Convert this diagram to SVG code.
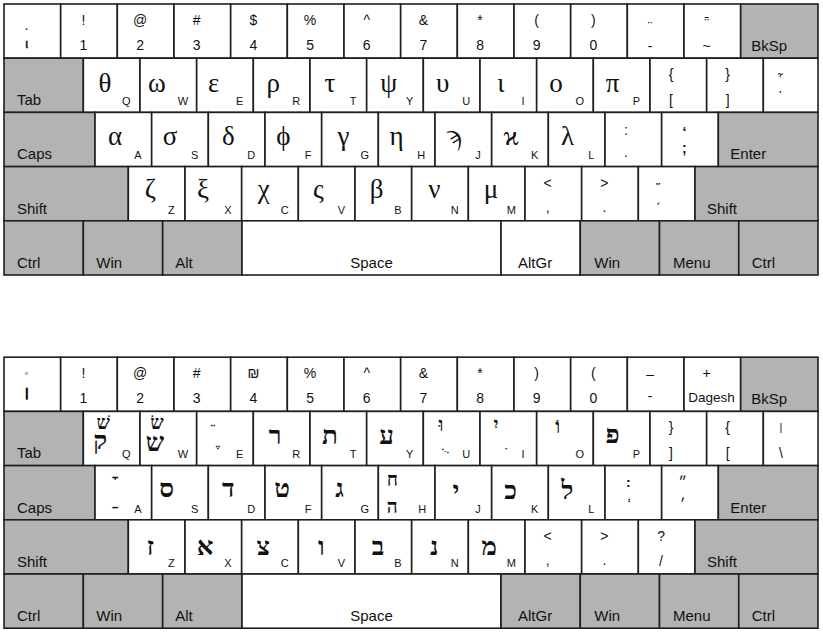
<svg xmlns="http://www.w3.org/2000/svg" width="823" height="632" viewBox="0 0 823 632">
<style>
.w{fill:#fff;stroke:#1e1e1e;stroke-width:1.6}
.d{fill:#b3b3b3;stroke:#1e1e1e;stroke-width:1.6}
text{fill:#111}
.s{font-family:"Liberation Sans",Arial,sans-serif;font-size:14px;text-anchor:middle}
.l{font-family:"Liberation Sans",Arial,sans-serif;font-size:11px;text-anchor:middle}
.m{font-family:"Liberation Sans",Arial,sans-serif;font-size:15px}
.g{font-family:"Liberation Serif","DejaVu Serif",serif;font-size:27px;text-anchor:middle}
.h{font-family:"Liberation Serif","DejaVu Serif",serif;font-size:26px;font-weight:bold;text-anchor:middle}
.hs{font-family:"Liberation Serif","DejaVu Serif",serif;font-size:19px;font-weight:bold;text-anchor:middle}
.pt{font-family:"DejaVu Sans",sans-serif;font-size:20px;text-anchor:middle}
.th{stroke:#111;stroke-width:0.5}
</style>
<rect width="823" height="632" fill="#fff"/>
<g id="greek">
<!-- row 1 -->
<g id="gk-grave" transform="translate(4 4)"><rect class="w" width="56.67" height="54.2"/><text class="s" x="22.7" y="29">·</text><text class="s th" x="22.7" y="44" style="font-size:13px">ι</text></g>
<g id="gk-1" transform="translate(60.67 4)"><rect class="w" width="56.67" height="54.2"/><text class="s" x="22.7" y="21">!</text><text class="s" x="22.7" y="46">1</text></g>
<g id="gk-2" transform="translate(117.33 4)"><rect class="w" width="56.67" height="54.2"/><text class="s" x="22.7" y="21">@</text><text class="s" x="22.7" y="46">2</text></g>
<g id="gk-3" transform="translate(174 4)"><rect class="w" width="56.67" height="54.2"/><text class="s" x="22.7" y="21">#</text><text class="s" x="22.7" y="46">3</text></g>
<g id="gk-4" transform="translate(230.67 4)"><rect class="w" width="56.67" height="54.2"/><text class="s" x="22.7" y="21">$</text><text class="s" x="22.7" y="46">4</text></g>
<g id="gk-5" transform="translate(287.33 4)"><rect class="w" width="56.67" height="54.2"/><text class="s" x="22.7" y="21">%</text><text class="s" x="22.7" y="46">5</text></g>
<g id="gk-6" transform="translate(344 4)"><rect class="w" width="56.67" height="54.2"/><text class="s" x="22.7" y="21">^</text><text class="s" x="22.7" y="46">6</text></g>
<g id="gk-7" transform="translate(400.67 4)"><rect class="w" width="56.67" height="54.2"/><text class="s" x="22.7" y="21">&amp;</text><text class="s" x="22.7" y="46">7</text></g>
<g id="gk-8" transform="translate(457.33 4)"><rect class="w" width="56.67" height="54.2"/><text class="s" x="22.7" y="21">*</text><text class="s" x="22.7" y="46">8</text></g>
<g id="gk-9" transform="translate(514 4)"><rect class="w" width="56.67" height="54.2"/><text class="s" x="22.7" y="21">(</text><text class="s" x="22.7" y="46">9</text></g>
<g id="gk-0" transform="translate(570.67 4)"><rect class="w" width="56.67" height="54.2"/><text class="s" x="22.7" y="21">)</text><text class="s" x="22.7" y="46">0</text></g>
<g id="gk-minus" transform="translate(627.33 4)"><rect class="w" width="56.67" height="54.2"/><text class="s" x="22.7" y="28">¨</text><text class="s" x="22.7" y="47">-</text></g>
<g id="gk-equal" transform="translate(684 4)"><rect class="w" width="56.67" height="54.2"/><text class="s" x="22.7" y="25">῁</text><text class="s" x="22.7" y="47">~</text></g>
<g id="gk-bksp" transform="translate(740.67 4)"><rect class="d" width="77.33" height="54.2"/><text class="m" x="10.5" y="47">BkSp</text></g>
<!-- row 2 -->
<g id="gk-tab" transform="translate(4 58.2)"><rect class="d" width="79.33" height="54.2"/><text class="m" x="13" y="47">Tab</text></g>
<g id="gk-q" transform="translate(83.33 58.2)"><rect class="w" width="56.67" height="54.2"/><text class="g" x="21.7" y="34">θ</text><text class="l" x="43" y="47">Q</text></g>
<g id="gk-w" transform="translate(140 58.2)"><rect class="w" width="56.67" height="54.2"/><text class="g" x="17" y="34">ω</text><text class="l" x="43" y="47">W</text></g>
<g id="gk-e" transform="translate(196.67 58.2)"><rect class="w" width="56.67" height="54.2"/><text class="g" x="17" y="34">ε</text><text class="l" x="43" y="47">E</text></g>
<g id="gk-r" transform="translate(253.33 58.2)"><rect class="w" width="56.67" height="54.2"/><text class="g" x="20" y="34">ρ</text><text class="l" x="43" y="47">R</text></g>
<g id="gk-t" transform="translate(310 58.2)"><rect class="w" width="56.67" height="54.2"/><text class="g" x="20" y="34">τ</text><text class="l" x="43" y="47">T</text></g>
<g id="gk-y" transform="translate(366.67 58.2)"><rect class="w" width="56.67" height="54.2"/><text class="g" x="22" y="34">ψ</text><text class="l" x="43" y="47">Y</text></g>
<g id="gk-u" transform="translate(423.33 58.2)"><rect class="w" width="56.67" height="54.2"/><text class="g" x="19.3" y="34">υ</text><text class="l" x="43" y="47">U</text></g>
<g id="gk-i" transform="translate(480 58.2)"><rect class="w" width="56.67" height="54.2"/><text class="g" x="21" y="34">ι</text><text class="l" x="43" y="47">I</text></g>
<g id="gk-o" transform="translate(536.67 58.2)"><rect class="w" width="56.67" height="54.2"/><text class="g" x="19.3" y="34">ο</text><text class="l" x="43" y="47">O</text></g>
<g id="gk-p" transform="translate(593.33 58.2)"><rect class="w" width="56.67" height="54.2"/><text class="g" x="19.3" y="34">π</text><text class="l" x="43" y="47">P</text></g>
<g id="gk-lbr" transform="translate(650 58.2)"><rect class="w" width="56.67" height="54.2"/><text class="s" x="21" y="21">{</text><text class="s" x="21" y="47">[</text></g>
<g id="gk-rbr" transform="translate(706.67 58.2)"><rect class="w" width="56.67" height="54.2"/><text class="s" x="21" y="21">}</text><text class="s" x="21" y="47">]</text></g>
<g id="gk-bsl" transform="translate(763.33 58.2)"><rect class="w" width="54.67" height="54.2"/><text class="s" x="17" y="28">῟</text><text class="s" x="17" y="44">῾</text></g>
<!-- row 3 -->
<g id="gk-caps" transform="translate(4 112.4)"><rect class="d" width="91" height="54.2"/><text class="m" x="13" y="47">Caps</text></g>
<g id="gk-a" transform="translate(95 112.4)"><rect class="w" width="56.67" height="54.2"/><text class="g" x="20" y="33">α</text><text class="l" x="43" y="47">A</text></g>
<g id="gk-s" transform="translate(151.67 112.4)"><rect class="w" width="56.67" height="54.2"/><text class="g" x="18.3" y="33">σ</text><text class="l" x="43" y="47">S</text></g>
<g id="gk-d" transform="translate(208.33 112.4)"><rect class="w" width="56.67" height="54.2"/><text class="g" x="20" y="33">δ</text><text class="l" x="43" y="47">D</text></g>
<g id="gk-f" transform="translate(265 112.4)"><rect class="w" width="56.67" height="54.2"/><text class="g" x="18.3" y="33">ϕ</text><text class="l" x="43" y="47">F</text></g>
<g id="gk-g" transform="translate(321.67 112.4)"><rect class="w" width="56.67" height="54.2"/><text class="g" x="21.7" y="33">γ</text><text class="l" x="43" y="47">G</text></g>
<g id="gk-h" transform="translate(378.33 112.4)"><rect class="w" width="56.67" height="54.2"/><text class="g" x="18.3" y="33">η</text><text class="l" x="43" y="47">H</text></g>
<g id="gk-j" transform="translate(435 112.4)"><rect class="w" width="56.67" height="54.2"/><text class="g" x="19.3" y="33">ϡ</text><text class="l" x="43" y="47">J</text></g>
<g id="gk-k" transform="translate(491.67 112.4)"><rect class="w" width="56.67" height="54.2"/><text class="g" x="19.3" y="33">ϰ</text><text class="l" x="43" y="47">K</text></g>
<g id="gk-l" transform="translate(548.33 112.4)"><rect class="w" width="56.67" height="54.2"/><text class="g" x="19.3" y="33">λ</text><text class="l" x="43" y="47">L</text></g>
<g id="gk-semi" transform="translate(605 112.4)"><rect class="w" width="56.67" height="54.2"/><text class="s" x="21" y="23">:</text><text class="s" x="21" y="45">.</text></g>
<g id="gk-apos" transform="translate(661.67 112.4)"><rect class="w" width="56.67" height="54.2"/><text class="s" x="22.7" y="25" font-weight="bold">‘</text><text class="s" x="22.7" y="41" font-weight="bold">;</text></g>
<g id="gk-enter" transform="translate(718.33 112.4)"><rect class="d" width="99.67" height="54.2"/><text class="m" x="12" y="47">Enter</text></g>
<!-- row 4 -->
<g id="gk-lshift" transform="translate(4 166.6)"><rect class="d" width="124.33" height="54.2"/><text class="m" x="13" y="47">Shift</text></g>
<g id="gk-z" transform="translate(128.33 166.6)"><rect class="w" width="56.67" height="54.2"/><text class="g" x="22" y="31">ζ</text><text class="l" x="43" y="47">Z</text></g>
<g id="gk-x" transform="translate(185 166.6)"><rect class="w" width="56.67" height="54.2"/><text class="g" x="18" y="31">ξ</text><text class="l" x="43" y="47">X</text></g>
<g id="gk-c" transform="translate(241.67 166.6)"><rect class="w" width="56.67" height="54.2"/><text class="g" x="22" y="31">χ</text><text class="l" x="43" y="47">C</text></g>
<g id="gk-v" transform="translate(298.33 166.6)"><rect class="w" width="56.67" height="54.2"/><text class="g" x="20" y="31">ς</text><text class="l" x="43" y="47">V</text></g>
<g id="gk-b" transform="translate(355 166.6)"><rect class="w" width="56.67" height="54.2"/><text class="g" x="21.7" y="31">β</text><text class="l" x="43" y="47">B</text></g>
<g id="gk-n" transform="translate(411.67 166.6)"><rect class="w" width="56.67" height="54.2"/><text class="g" x="22.7" y="31">ν</text><text class="l" x="43" y="47">N</text></g>
<g id="gk-m" transform="translate(468.33 166.6)"><rect class="w" width="56.67" height="54.2"/><text class="g" x="22.7" y="31">μ</text><text class="l" x="43" y="47">M</text></g>
<g id="gk-comma" transform="translate(525 166.6)"><rect class="w" width="56.67" height="54.2"/><text class="s" x="22.7" y="21">&lt;</text><text class="s" x="22.7" y="45">,</text></g>
<g id="gk-period" transform="translate(581.67 166.6)"><rect class="w" width="56.67" height="54.2"/><text class="s" x="22.7" y="21">&gt;</text><text class="s" x="22.7" y="45">.</text></g>
<g id="gk-slash" transform="translate(638.33 166.6)"><rect class="w" width="56.67" height="54.2"/><text class="s" x="20" y="27">῞</text><text class="s" x="20" y="47">΄</text></g>
<g id="gk-rshift" transform="translate(695 166.6)"><rect class="d" width="123" height="54.2"/><text class="m" x="12" y="47">Shift</text></g>
<!-- row 5 -->
<g id="gk-lctrl" transform="translate(4 220.8)"><rect class="d" width="79.33" height="54.2"/><text class="m" x="13" y="47">Ctrl</text></g>
<g id="gk-lwin" transform="translate(83.33 220.8)"><rect class="d" width="79.33" height="54.2"/><text class="m" x="13" y="47">Win</text></g>
<g id="gk-alt" transform="translate(162.67 220.8)"><rect class="d" width="79.33" height="54.2"/><text class="m" x="12.5" y="47">Alt</text></g>
<g id="gk-space" transform="translate(242 220.8)"><rect class="w" width="259" height="54.2"/><text class="m" x="129.5" y="47" text-anchor="middle">Space</text></g>
<g id="gk-altgr" transform="translate(501 220.8)"><rect class="w" width="79.25" height="54.2"/><text class="m" x="17" y="47">AltGr</text></g>
<g id="gk-rwin" transform="translate(580.25 220.8)"><rect class="d" width="79.25" height="54.2"/><text class="m" x="14" y="47">Win</text></g>
<g id="gk-menu" transform="translate(659.5 220.8)"><rect class="d" width="79.25" height="54.2"/><text class="m" x="13.5" y="47">Menu</text></g>
<g id="gk-rctrl" transform="translate(738.75 220.8)"><rect class="d" width="79.25" height="54.2"/><text class="m" x="13" y="47">Ctrl</text></g>
</g>

<g id="hebrew">
<!-- row 1 -->
<g id="hk-grave" transform="translate(4 357.2)"><rect class="w" width="56.67" height="54.2"/><text class="s" x="22.7" y="20" style="font-size:12px">◦</text><text class="s" x="22.7" y="40" style="font-size:9px;font-weight:bold;stroke:#111;stroke-width:1.4">׀</text></g>
<g id="hk-1" transform="translate(60.67 357.2)"><rect class="w" width="56.67" height="54.2"/><text class="s" x="22.7" y="21">!</text><text class="s" x="22.7" y="46">1</text></g>
<g id="hk-2" transform="translate(117.33 357.2)"><rect class="w" width="56.67" height="54.2"/><text class="s" x="22.7" y="21">@</text><text class="s" x="22.7" y="46">2</text></g>
<g id="hk-3" transform="translate(174 357.2)"><rect class="w" width="56.67" height="54.2"/><text class="s" x="22.7" y="21">#</text><text class="s" x="22.7" y="46">3</text></g>
<g id="hk-4" transform="translate(230.67 357.2)"><rect class="w" width="56.67" height="54.2"/><text class="s" x="22.7" y="21">₪</text><text class="s" x="22.7" y="46">4</text></g>
<g id="hk-5" transform="translate(287.33 357.2)"><rect class="w" width="56.67" height="54.2"/><text class="s" x="22.7" y="21">%</text><text class="s" x="22.7" y="46">5</text></g>
<g id="hk-6" transform="translate(344 357.2)"><rect class="w" width="56.67" height="54.2"/><text class="s" x="22.7" y="21">^</text><text class="s" x="22.7" y="46">6</text></g>
<g id="hk-7" transform="translate(400.67 357.2)"><rect class="w" width="56.67" height="54.2"/><text class="s" x="22.7" y="21">&amp;</text><text class="s" x="22.7" y="46">7</text></g>
<g id="hk-8" transform="translate(457.33 357.2)"><rect class="w" width="56.67" height="54.2"/><text class="s" x="22.7" y="21">*</text><text class="s" x="22.7" y="46">8</text></g>
<g id="hk-9" transform="translate(514 357.2)"><rect class="w" width="56.67" height="54.2"/><text class="s" x="22.7" y="21">)</text><text class="s" x="22.7" y="46">9</text></g>
<g id="hk-0" transform="translate(570.67 357.2)"><rect class="w" width="56.67" height="54.2"/><text class="s" x="22.7" y="21">(</text><text class="s" x="22.7" y="46">0</text></g>
<g id="hk-minus" transform="translate(627.33 357.2)"><rect class="w" width="56.67" height="54.2"/><text class="s" x="22.7" y="22">–</text><text class="s" x="22.7" y="44">-</text></g>
<g id="hk-equal" transform="translate(684 357.2)"><rect class="w" width="56.67" height="54.2"/><text class="s" x="22.7" y="21">+</text><text class="s" x="27.5" y="45" style="font-size:13.5px">Dagesh</text></g>
<g id="hk-bksp" transform="translate(740.67 357.2)"><rect class="d" width="77.33" height="54.2"/><text class="m" x="10.5" y="47">BkSp</text></g>
<!-- row 2 -->
<g id="hk-tab" transform="translate(4 411.4)"><rect class="d" width="79.33" height="54.2"/><text class="m" x="13" y="47">Tab</text></g>
<g id="hk-q" transform="translate(83.33 411.4)"><rect class="w" width="56.67" height="54.2"/><text class="hs" x="20" y="18">שׁ</text><text class="h" x="17" y="38">ק</text><text class="l" x="43" y="47">Q</text></g>
<g id="hk-w" transform="translate(140 411.4)"><rect class="w" width="56.67" height="54.2"/><text class="hs" x="17" y="18">שׂ</text><text class="h" x="15" y="40">ש</text><text class="l" x="43" y="47">W</text></g>
<g id="hk-e" transform="translate(196.67 411.4)"><rect class="w" width="56.67" height="54.2"/><text class="pt" x="13" y="12">&#x00A0;&#x05B5;</text><text class="pt" x="18" y="34">&#x00A0;&#x05B6;</text><text class="l" x="43" y="47">E</text></g>
<g id="hk-r" transform="translate(253.33 411.4)"><rect class="w" width="56.67" height="54.2"/><text class="h" x="21.7" y="33">ר</text><text class="l" x="43" y="47">R</text></g>
<g id="hk-t" transform="translate(310 411.4)"><rect class="w" width="56.67" height="54.2"/><text class="h" x="20" y="33">ת</text><text class="l" x="43" y="47">T</text></g>
<g id="hk-y" transform="translate(366.67 411.4)"><rect class="w" width="56.67" height="54.2"/><text class="h" x="20" y="33">ע</text><text class="l" x="43" y="47">Y</text></g>
<g id="hk-u" transform="translate(423.33 411.4)"><rect class="w" width="56.67" height="54.2"/><text class="hs" x="17.7" y="20">וּ</text><text class="pt" x="19" y="38">&#x00A0;&#x05BB;</text><text class="l" x="43" y="47">U</text></g>
<g id="hk-i" transform="translate(480 411.4)"><rect class="w" width="56.67" height="54.2"/><text class="hs" x="16" y="20">יִ</text><text class="pt" x="23" y="35">&#x00A0;&#x05B4;</text><text class="l" x="43" y="47">I</text></g>
<g id="hk-o" transform="translate(536.67 411.4)"><rect class="w" width="56.67" height="54.2"/><text class="hs" x="21" y="22">וֹ</text><text class="l" x="43" y="47">O</text></g>
<g id="hk-p" transform="translate(593.33 411.4)"><rect class="w" width="56.67" height="54.2"/><text class="h" x="19.3" y="32">פ</text><text class="l" x="43" y="47">P</text></g>
<g id="hk-lbr" transform="translate(650 411.4)"><rect class="w" width="56.67" height="54.2"/><text class="s" x="21" y="21">}</text><text class="s" x="21" y="47">]</text></g>
<g id="hk-rbr" transform="translate(706.67 411.4)"><rect class="w" width="56.67" height="54.2"/><text class="s" x="21" y="21">{</text><text class="s" x="21" y="47">[</text></g>
<g id="hk-bsl" transform="translate(763.33 411.4)"><rect class="w" width="54.67" height="54.2"/><text class="s" x="17.7" y="20" style="font-size:11px">|</text><text class="s" x="17.7" y="47">\</text></g>
<!-- row 3 -->
<g id="hk-caps" transform="translate(4 465.6)"><rect class="d" width="91" height="54.2"/><text class="m" x="13" y="47">Caps</text></g>
<g id="hk-a" transform="translate(95 465.6)"><rect class="w" width="56.67" height="54.2"/><text class="pt" x="17" y="10">&#x00A0;&#x05B8;</text><text class="pt" x="17" y="39">&#x00A0;&#x05B7;</text><text class="l" x="43" y="47">A</text></g>
<g id="hk-s" transform="translate(151.67 465.6)"><rect class="w" width="56.67" height="54.2"/><text class="h" x="15" y="31">ס</text><text class="l" x="43" y="47">S</text></g>
<g id="hk-d" transform="translate(208.33 465.6)"><rect class="w" width="56.67" height="54.2"/><text class="h" x="20" y="31">ד</text><text class="l" x="43" y="47">D</text></g>
<g id="hk-f" transform="translate(265 465.6)"><rect class="w" width="56.67" height="54.2"/><text class="h" x="17" y="31">ט</text><text class="l" x="43" y="47">F</text></g>
<g id="hk-g" transform="translate(321.67 465.6)"><rect class="w" width="56.67" height="54.2"/><text class="h" x="18" y="31">ג</text><text class="l" x="43" y="47">G</text></g>
<g id="hk-h" transform="translate(378.33 465.6)"><rect class="w" width="56.67" height="54.2"/><text class="hs" x="14" y="20">ח</text><text class="hs" x="14" y="47">ה</text><text class="l" x="44" y="47">H</text></g>
<g id="hk-j" transform="translate(435 465.6)"><rect class="w" width="56.67" height="54.2"/><text class="h" x="21" y="33">י</text><text class="l" x="43" y="47">J</text></g>
<g id="hk-k" transform="translate(491.67 465.6)"><rect class="w" width="56.67" height="54.2"/><text class="h" x="19" y="33">כ</text><text class="l" x="43" y="47">K</text></g>
<g id="hk-l" transform="translate(548.33 465.6)"><rect class="w" width="56.67" height="54.2"/><text class="h" x="19" y="33">ל</text><text class="l" x="43" y="47">L</text></g>
<g id="hk-semi" transform="translate(605 465.6)"><rect class="w" width="56.67" height="54.2"/><text class="s" x="21" y="21" font-weight="bold">׃</text><text class="pt" x="21" y="32">&#x00A0;&#x05B0;</text></g>
<g id="hk-apos" transform="translate(661.67 465.6)"><rect class="w" width="56.67" height="54.2"/><text class="s" x="21" y="21">״</text><text class="s" x="21" y="43">׳</text></g>
<g id="hk-enter" transform="translate(718.33 465.6)"><rect class="d" width="99.67" height="54.2"/><text class="m" x="12" y="47">Enter</text></g>
<!-- row 4 -->
<g id="hk-lshift" transform="translate(4 519.8)"><rect class="d" width="124.33" height="54.2"/><text class="m" x="13" y="47">Shift</text></g>
<g id="hk-z" transform="translate(128.33 519.8)"><rect class="w" width="56.67" height="54.2"/><text class="h" x="22" y="35">ז</text><text class="l" x="43" y="47">Z</text></g>
<g id="hk-x" transform="translate(185 519.8)"><rect class="w" width="56.67" height="54.2"/><text class="h" x="20" y="35">א</text><text class="l" x="43" y="47">X</text></g>
<g id="hk-c" transform="translate(241.67 519.8)"><rect class="w" width="56.67" height="54.2"/><text class="h" x="21.7" y="35">צ</text><text class="l" x="43" y="47">C</text></g>
<g id="hk-v" transform="translate(298.33 519.8)"><rect class="w" width="56.67" height="54.2"/><text class="h" x="23" y="35">ו</text><text class="l" x="43" y="47">V</text></g>
<g id="hk-b" transform="translate(355 519.8)"><rect class="w" width="56.67" height="54.2"/><text class="h" x="23" y="35">ב</text><text class="l" x="43" y="47">B</text></g>
<g id="hk-n" transform="translate(411.67 519.8)"><rect class="w" width="56.67" height="54.2"/><text class="h" x="22.7" y="35">נ</text><text class="l" x="43" y="47">N</text></g>
<g id="hk-m" transform="translate(468.33 519.8)"><rect class="w" width="56.67" height="54.2"/><text class="h" x="21" y="35">מ</text><text class="l" x="43" y="47">M</text></g>
<g id="hk-comma" transform="translate(525 519.8)"><rect class="w" width="56.67" height="54.2"/><text class="s" x="22.7" y="21">&lt;</text><text class="s" x="22.7" y="45">,</text></g>
<g id="hk-period" transform="translate(581.67 519.8)"><rect class="w" width="56.67" height="54.2"/><text class="s" x="22.7" y="21">&gt;</text><text class="s" x="22.7" y="45">.</text></g>
<g id="hk-slash" transform="translate(638.33 519.8)"><rect class="w" width="56.67" height="54.2"/><text class="s" x="22.7" y="21">?</text><text class="s" x="22.7" y="46">/</text></g>
<g id="hk-rshift" transform="translate(695 519.8)"><rect class="d" width="123" height="54.2"/><text class="m" x="12" y="47">Shift</text></g>
<!-- row 5 -->
<g id="hk-lctrl" transform="translate(4 574)"><rect class="d" width="79.33" height="54.2"/><text class="m" x="13" y="47">Ctrl</text></g>
<g id="hk-lwin" transform="translate(83.33 574)"><rect class="d" width="79.33" height="54.2"/><text class="m" x="13" y="47">Win</text></g>
<g id="hk-alt" transform="translate(162.67 574)"><rect class="d" width="79.33" height="54.2"/><text class="m" x="12.5" y="47">Alt</text></g>
<g id="hk-space" transform="translate(242 574)"><rect class="w" width="259" height="54.2"/><text class="m" x="129.5" y="47" text-anchor="middle">Space</text></g>
<g id="hk-altgr" transform="translate(501 574)"><rect class="d" width="79.25" height="54.2"/><text class="m" x="17" y="47">AltGr</text></g>
<g id="hk-rwin" transform="translate(580.25 574)"><rect class="d" width="79.25" height="54.2"/><text class="m" x="14" y="47">Win</text></g>
<g id="hk-menu" transform="translate(659.5 574)"><rect class="d" width="79.25" height="54.2"/><text class="m" x="13.5" y="47">Menu</text></g>
<g id="hk-rctrl" transform="translate(738.75 574)"><rect class="d" width="79.25" height="54.2"/><text class="m" x="13" y="47">Ctrl</text></g>
</g>
</svg>
